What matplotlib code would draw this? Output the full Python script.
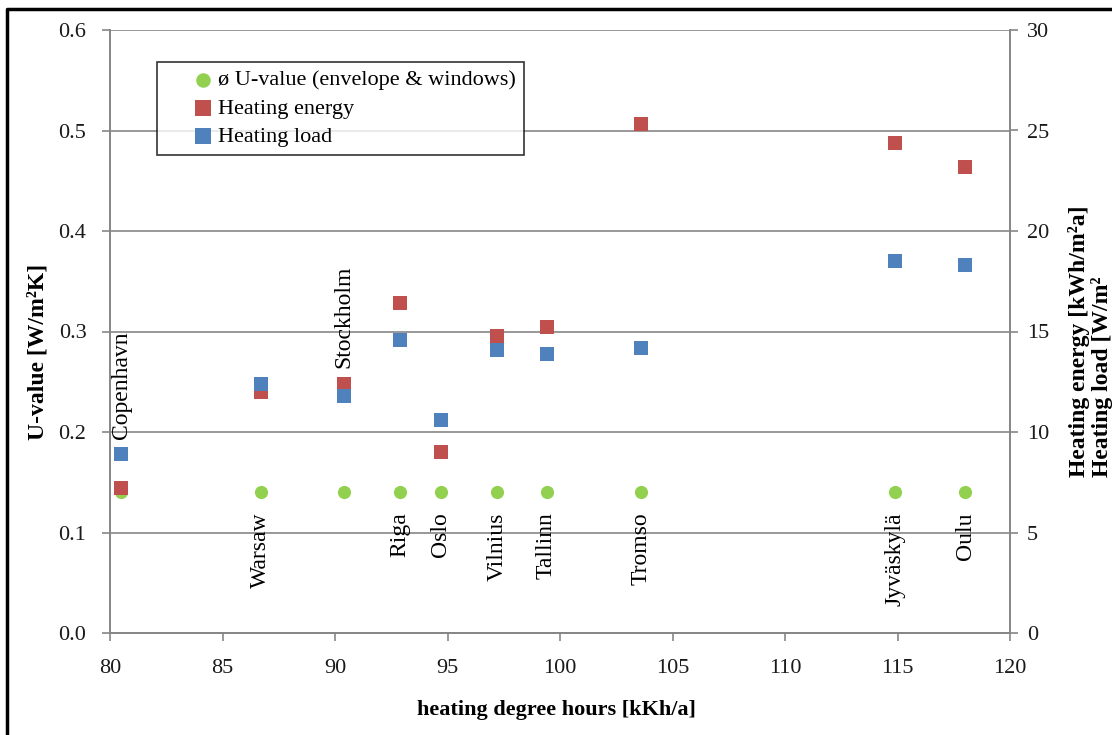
import numpy as np
import matplotlib
matplotlib.use("Agg")
import matplotlib.pyplot as plt
from matplotlib.lines import Line2D

# data
cities = ["Copenhavn", "Warsaw", "Stockholm", "Riga", "Oslo", "Vilnius",
          "Tallinn", "Tromso", "Jyväskylä", "Oulu"]
hdh = [80.5, 86.7, 90.4, 92.9, 94.7, 97.2, 99.4, 103.6, 114.9, 118.0]
u_value = [0.14, 0.14, 0.14, 0.14, 0.14, 0.14, 0.14, 0.14, 0.14, 0.14]
heat_energy = [7.2, 12.0, 12.4, 16.4, 9.0, 14.8, 15.2, 25.3, 24.4, 23.2]
heat_load = [8.9, 12.4, 11.8, 14.6, 10.6, 14.1, 13.9, 14.2, 18.5, 18.3]
label_above = [True, False, True, False, False, False, False, False, False, False]
label_y = [0.193, 0.12, 0.264, 0.12, 0.12, 0.12, 0.12, 0.12, 0.12, 0.12]

green = "#92D050"
red = "#C0504D"
blue = "#4F81BD"
grey = "#868686"
serif = "Liberation Serif"

W, H = 1112, 735
fig = plt.figure(figsize=(W / 100, H / 100), dpi=100)
ax = fig.add_axes([110 / W, 1 - 633 / H, 900 / W, 603 / H])
ax2 = ax.twinx()

# U-values on the left axis, heating values on the right axis
h1 = ax.scatter(hdh, u_value, s=90, marker="o", color=green, linewidths=0,
                label="ø U-value (envelope & windows)", zorder=3)
h2 = ax2.scatter(hdh, heat_energy, s=110, marker="s", color=red, linewidths=0,
                 label="Heating energy", zorder=3)
h3 = ax2.scatter(hdh, heat_load, s=110, marker="s", color=blue, linewidths=0,
                 label="Heating load", zorder=4)

ax.set_xlim(80, 120)
ax.set_ylim(0, 0.6)
ax2.set_ylim(0, 30)
ax.set_xticks(np.arange(80, 121, 5))
ax.set_yticks(np.arange(0, 0.61, 0.1))
ax.set_yticklabels([f"{v:.1f}" for v in np.arange(0, 0.61, 0.1)])
ax2.set_yticks(np.arange(0, 31, 5))

ax.grid(axis="y", color=grey, lw=1.2)
ax.set_axisbelow(True)
for a in (ax, ax2):
    for s in a.spines.values():
        s.set_color(grey)
        s.set_linewidth(1.2)
    a.spines["top"].set_visible(False)
    a.tick_params(direction="out", length=6, width=1.2, color=grey,
                  labelsize=16, labelcolor="#1a1a1a")
    for t in a.get_xticklabels() + a.get_yticklabels():
        t.set_fontfamily(serif)
ax.tick_params(axis="x", pad=13)
ax.tick_params(axis="y", pad=11)
ax2.tick_params(axis="y", pad=6)

# city names, rotated
for name, x, y, up in zip(cities, hdh, label_y, label_above):
    ax.text(x, y, name, rotation=90, ha="center",
            va="bottom" if up else "top", fontsize=17, family=serif)

# axis titles
fig.text(556 / W, 1 - 710 / H, "heating degree hours [kKh/a]", ha="center",
         va="center", fontsize=16, fontweight="bold", family=serif)
fig.text(38 / W, 1 - 352 / H, "U-value [W/m²K]", rotation=90, ha="center",
         va="center", fontsize=17, fontweight="bold", family=serif)
fig.text(1079 / W, 1 - 477 / H, "Heating energy [kWh/m²a]", rotation=90,
         ha="center", va="bottom", fontsize=17, fontweight="bold", family=serif)
fig.text(1102 / W, 1 - 477 / H, "Heating load [W/m²", rotation=90,
         ha="center", va="bottom", fontsize=17, fontweight="bold", family=serif)

leg = ax.legend(handles=[h1, h2, h3], loc="upper left",
                bbox_to_anchor=(157 / W, 1 - 62 / H), bbox_transform=fig.transFigure,
                prop={"family": serif, "size": 16}, frameon=True, fancybox=False,
                edgecolor="black", borderpad=0.35, handletextpad=-1.0,
                labelspacing=0.35, handlelength=3.4, borderaxespad=0,
                markerscale=1.1)
leg.get_frame().set_linewidth(1.2)
leg.set_zorder(10)

# outer frame of the pasted image (top and left edges)
fig.add_artist(Line2D([7 / W, 7 / W, 1], [0, 1 - 9 / H, 1 - 9 / H],
                      transform=fig.transFigure, color="black", lw=2.5))

fig.savefig("out.png", dpi=100)
